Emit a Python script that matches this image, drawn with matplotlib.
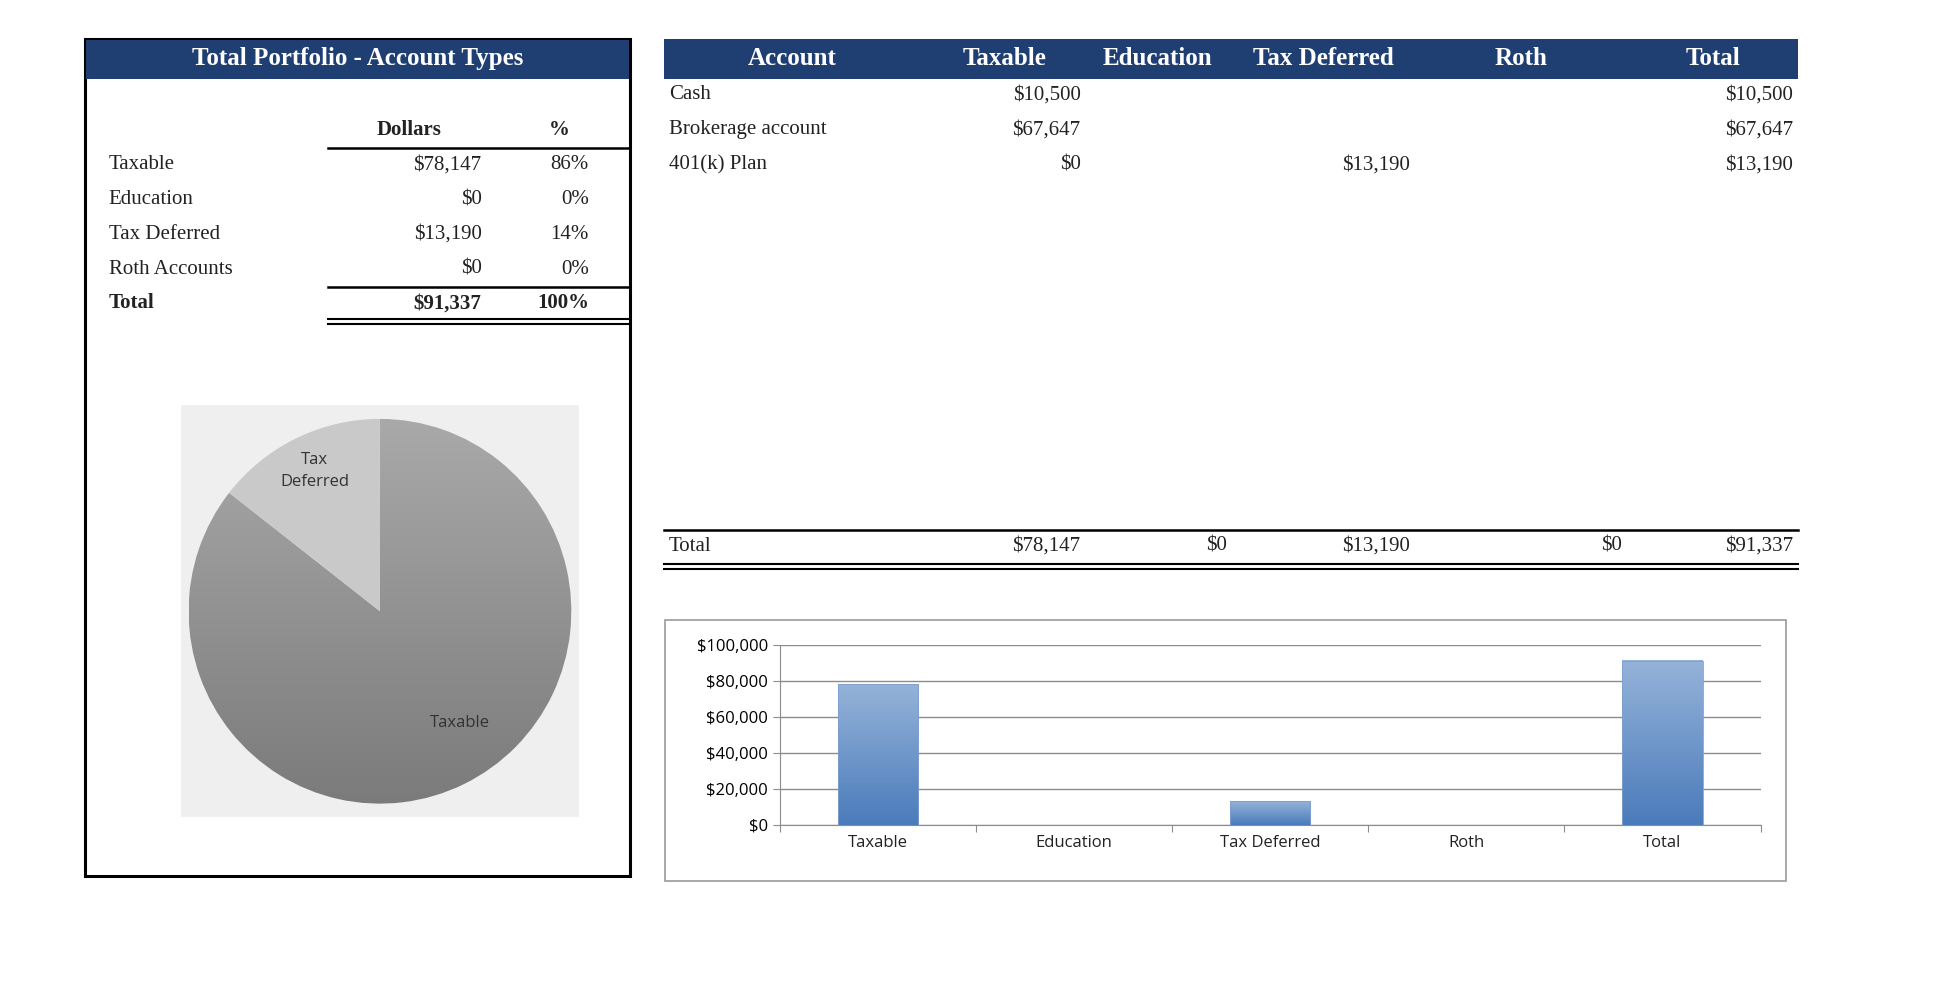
import matplotlib
matplotlib.use("Agg")
import matplotlib.pyplot as plt
import numpy as np
from matplotlib.patches import Rectangle, Wedge

# data
acct_types = ["Taxable", "Education", "Tax Deferred", "Roth Accounts"]
acct_dollars = [78147, 0, 13190, 0]
acct_pct = ["86%", "0%", "14%", "0%"]
total_dollars = 91337

rows = ["Cash", "Brokerage account", "401(k) Plan"]
row_taxable = ["$10,500", "$67,647", "$0"]
row_taxdef = ["", "", "$13,190"]
row_total = ["$10,500", "$67,647", "$13,190"]

bar_cats = ["Taxable", "Education", "Tax Deferred", "Roth", "Total"]
bar_vals = [78147, 0, 13190, 0, 91337]

W, H = 1550.0, 792.0
NAVY = "#1f3f73"
SERIF = "Liberation Serif"

def fx(x): return x / W
def fy(y): return 1 - y / H

fig = plt.figure(figsize=(19.34, 9.88), dpi=100)

def txt(x, y, s, ha="left", bold=False, color="#222222", size=15, family=SERIF):
    fig.text(fx(x), fy(y), s, ha=ha, va="center", color=color, fontsize=size,
             fontweight="bold" if bold else "normal", family=family)

def hline(x0, x1, y, lw=1.5, color="black"):
    fig.add_artist(plt.Line2D([fx(x0), fx(x1)], [fy(y), fy(y)], color=color, lw=lw))

def rect(x0, y0, x1, y1, fc="none", ec="none", lw=0):
    fig.add_artist(Rectangle((fx(x0), fy(y1)), fx(x1) - fx(x0), fy(y0) - fy(y1),
                             facecolor=fc, edgecolor=ec, lw=lw, transform=fig.transFigure))

def fmt(v):
    return "${:,.0f}".format(v)

# left panel
rect(68, 31, 505, 702, ec="black", lw=2.2)
rect(69, 32, 504, 63, fc=NAVY)
txt(287, 47, "Total Portfolio - Account Types", ha="center", bold=True, color="white", size=18)
txt(328, 104, "Dollars", ha="center", bold=True, size=15)
txt(448, 104, "%", ha="center", bold=True, size=15)
hline(263, 503, 119, lw=1.8)
for i, (n, d, p) in enumerate(zip(acct_types, acct_dollars, acct_pct)):
    y = 132 + 28 * i
    txt(87, y, n)
    txt(386, y, fmt(d), ha="right")
    txt(472, y, p, ha="right")
hline(263, 503, 230, lw=1.8)
txt(87, 243, "Total", bold=True)
txt(386, 243, fmt(total_dollars), ha="right", bold=True)
txt(472, 243, "100%", ha="right", bold=True)
hline(263, 503, 256, lw=1.5)
hline(263, 503, 260, lw=1.5)

# pie
pax = fig.add_axes([fx(145), fy(655), fx(464) - fx(145), fy(325) - fy(655)])
pax.set_facecolor("#efefef")
pax.set_xlim(-1.04, 1.04)
pax.set_ylim(-1.07, 1.07)
pax.set_xticks([]); pax.set_yticks([])
for s in pax.spines.values():
    s.set_visible(False)
vals = [v for v in acct_dollars if v > 0]
fracs = np.array(vals) / sum(vals)
# taxable first clockwise from top, tax deferred after
ang_td = fracs[1] * 360
grad = np.linspace(0, 1, 200).reshape(-1, 1)
w_tax = Wedge((0, 0), 1, 90 + ang_td, 90 + 360, facecolor="none", edgecolor="none")
pax.add_patch(w_tax)
im = pax.imshow(grad, extent=[-1, 1, -1, 1], origin="lower", cmap=matplotlib.colors.LinearSegmentedColormap.from_list("g", ["#7b7b7b", "#a9a9a9"]), aspect="auto", zorder=1)
im.set_clip_path(w_tax)
pax.add_patch(Wedge((0, 0), 1, 90, 90 + ang_td, facecolor="#c9c9c9", edgecolor="none", zorder=2))
pax.text(-0.34, 0.73, "Tax\nDeferred", ha="center", va="center", fontsize=12, color="#333333", family="Open Sans", linespacing=1.5)
pax.text(0.42, -0.58, "Taxable", ha="center", va="center", fontsize=12, color="#333333", family="Open Sans")

# right table
rect(532, 31, 1441, 63, fc=NAVY)
heads = [("Account", 635), ("Taxable", 805), ("Education", 928), ("Tax Deferred", 1061), ("Roth", 1219), ("Total", 1373)]
for h, x in heads:
    txt(x, 47, h, ha="center", bold=True, color="white", size=18)
for i, r in enumerate(rows):
    y = 76 + 28 * i
    txt(536, y, r)
    txt(866, y, row_taxable[i], ha="right")
    if row_taxdef[i]:
        txt(1130, y, row_taxdef[i], ha="right")
    txt(1437, y, row_total[i], ha="right")
hline(532, 1441, 425, lw=1.8)
txt(536, 438, "Total")
for v, x in zip(bar_vals, [866, 983, 1130, 1300, 1437]):
    txt(x, 438, fmt(v), ha="right")
hline(532, 1441, 452, lw=1.5)
hline(532, 1441, 456, lw=1.5)

# bar chart
rect(533, 497, 1431, 706, ec="#9a9a9a", lw=1.2)
bax = fig.add_axes([fx(625), fy(661), fx(1411) - fx(625), fy(517) - fy(661)])
xs = np.arange(len(bar_cats))
bax.set_xlim(-0.5, len(bar_cats) - 0.5)
bax.set_ylim(0, 100000)
bcmap = matplotlib.colors.LinearSegmentedColormap.from_list("b", ["#4a7bbb", "#95b3d9"])
for x, v in zip(xs, bar_vals):
    if v > 0:
        bax.imshow(grad, extent=[x - 0.205, x + 0.205, 0, v], origin="lower", cmap=bcmap, aspect="auto", zorder=3)
        bax.add_patch(Rectangle((x - 0.205, 0), 0.41, v, facecolor="none", edgecolor="#7f9fcf", lw=0.6, zorder=4))
bax.set_xlim(-0.5, len(bar_cats) - 0.5)
bax.set_ylim(0, 100000)
bax.set_yticks(np.arange(0, 100001, 20000))
bax.set_yticklabels([fmt(v) for v in np.arange(0, 100001, 20000)], family="Open Sans", fontsize=12)
bax.yaxis.grid(True, color="#8c8c8c", lw=1)
bax.set_axisbelow(True)
bax.set_xticks(np.arange(-0.5, len(bar_cats)), minor=False)
bax.set_xticklabels([])
bax.tick_params(axis="x", length=5, color="#8c8c8c")
bax.tick_params(axis="y", length=5, color="#8c8c8c")
for x, c in zip(xs, bar_cats):
    bax.text(x, -0.1, c, transform=bax.get_xaxis_transform(), ha="center", va="center", family="Open Sans", fontsize=12, color="#222222")
for k in ["top", "right"]:
    bax.spines[k].set_visible(False)
bax.spines["left"].set_color("#8c8c8c")
bax.spines["bottom"].set_color("#8c8c8c")

fig.savefig("out.png", dpi=100)
